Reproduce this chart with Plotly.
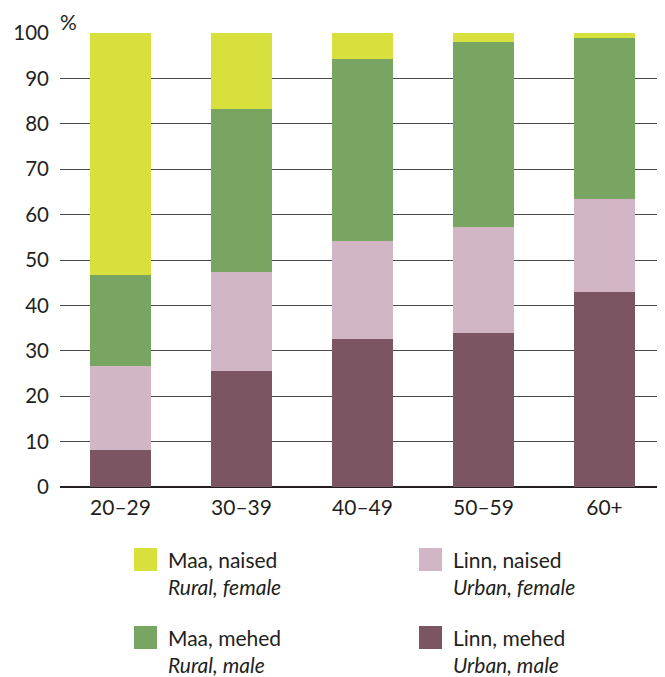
import plotly.graph_objects as go

categories = ["20–29", "30–39", "40–49", "50–59", "60+"]
linn_mehed = [8.1, 25.5, 32.6, 33.9, 43.0]
linn_naised = [18.5, 21.8, 21.6, 23.4, 20.4]
maa_mehed = [20.1, 36.0, 40.1, 40.7, 35.5]
maa_naised = [53.3, 16.7, 5.7, 2.0, 1.1]
y_ticks = [0, 10, 20, 30, 40, 50, 60, 70, 80, 90, 100]

series = [
    ("Linn, mehed", linn_mehed, "#7b5561"),
    ("Linn, naised", linn_naised, "#d2b6c5"),
    ("Maa, mehed", maa_mehed, "#79a562"),
    ("Maa, naised", maa_naised, "#d7e03c"),
]

FONT = "Lato"
TXT = "#231f20"

fig = go.Figure()
for name, vals, col in series:
    fig.add_trace(go.Bar(x=categories, y=vals, name=name,
                         marker=dict(color=col, line=dict(width=0)), showlegend=False))

# page geometry (browser body has an 8px margin)
OFF = 8
PL, PT, PR, PB = 60, 33, 665, 487
W, H = 665 - OFF, 677 - OFF


def px(x):
    return (x - PL) / (PR - PL)


def py(y):
    return (PB - y) / (PB - PT)


legend_items = [
    ("Maa, naised", "Rural, female", "#d7e03c", 134, 548),
    ("Linn, naised", "Urban, female", "#d2b6c5", 419, 548),
    ("Maa, mehed", "Rural, male", "#79a562", 134, 626),
    ("Linn, mehed", "Urban, male", "#7b5561", 419, 626),
]
shapes = []
annotations = []
for et, en, col, x0, y0 in legend_items:
    shapes.append(dict(type="rect", xref="paper", yref="paper",
                       x0=px(x0), x1=px(x0 + 23), y0=py(y0), y1=py(y0 + 23),
                       fillcolor=col, line=dict(width=0)))
    annotations.append(dict(xref="paper", yref="paper", x=px(x0 + 33), y=py(y0 + 24.5),
                            xanchor="left", yanchor="middle",
                            text=f"{et}<br><i>{en}</i>", showarrow=False, align="left",
                            borderpad=0, font=dict(family=FONT, size=21, color=TXT)))
annotations.append(dict(xref="paper", yref="paper", x=px(59), y=py(8),
                        xanchor="left", yanchor="top", text="%", showarrow=False,
                        borderpad=0, font=dict(family=FONT, size=21, color=TXT)))

fig.update_layout(
    barmode="stack",
    bargap=0.496,
    width=W, height=H,
    margin=dict(l=PL - OFF, r=0, t=PT - OFF, b=H - (PB - OFF), pad=0),
    plot_bgcolor="white", paper_bgcolor="white",
    font=dict(family=FONT, size=20, color=TXT),
    shapes=shapes, annotations=annotations,
    xaxis=dict(type="category", range=[-0.5, 4.5], showgrid=False, showline=False,
               ticks="", ticklabelstandoff=6, tickfont=dict(size=21, color=TXT),
               fixedrange=True),
    yaxis=dict(range=[0, 100], tickvals=y_ticks, showgrid=True, gridcolor="#4a4a4a",
               gridwidth=1.3, zeroline=True, zerolinecolor="#231f20", zerolinewidth=1.5,
               showline=False, ticks="", ticklabelstandoff=10,
               tickfont=dict(size=20.5, color=TXT)),
)

fig.write_html("out.html")
